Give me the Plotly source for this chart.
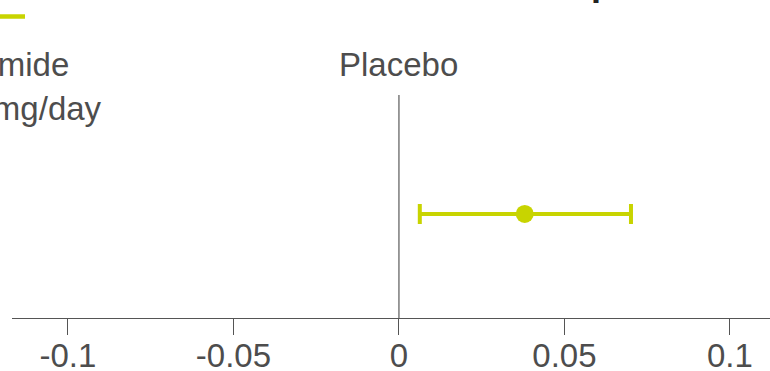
import plotly.graph_objects as go

# Estimated treatment effect versus placebo with its confidence interval
effect = [0.038]
ci_low = [0.0063]
ci_high = [0.0701]
row = [0.0]

tick_vals = [-0.1, -0.05, 0, 0.05, 0.1]
tick_text = ["-0.1", "-0.05", "0", "0.05", "0.1"]

GREEN = "#c8d400"
GREY = "#555555"
TXT = "#4d4d4d"

W, H = 770, 371
L, R, T, B = 12, 0, 95, 53
pw, ph = W - L - R, H - T - B


def px_x(px):
    return (px - L) / pw


def px_y(py):
    return (H - B - py) / ph


fig = go.Figure()

# reference line at no difference
fig.add_trace(go.Scatter(
    x=[0, 0], y=[-0.933, 1.067], mode="lines",
    line=dict(color="#666666", width=1.3), hoverinfo="skip", showlegend=False,
))

fig.add_trace(go.Scatter(
    x=effect, y=row, mode="markers",
    marker=dict(color=GREEN, size=18),
    error_x=dict(
        type="data", symmetric=False,
        array=[h - e for h, e in zip(ci_high, effect)],
        arrayminus=[e - l for e, l in zip(effect, ci_low)],
        color=GREEN, thickness=4, width=10,
    ),
    showlegend=False,
))

font_main = dict(family="Liberation Sans, Arial, sans-serif", size=33, color=TXT)

fig.add_annotation(
    x=0, xref="x", y=px_y(64), yref="paper", text="Placebo",
    showarrow=False, xanchor="center", yanchor="middle", font=font_main,
)
fig.add_annotation(
    x=px_x(71), xref="paper", y=px_y(64), yref="paper", text="Lenalidomide",
    showarrow=False, xanchor="right", yanchor="middle", font=font_main,
)
fig.add_annotation(
    x=px_x(104), xref="paper", y=px_y(109), yref="paper", text="10 mg/day",
    showarrow=False, xanchor="right", yanchor="middle", font=font_main,
)
fig.add_annotation(
    x=px_x(313), xref="paper", y=px_y(4.5), yref="paper",
    text="<b>Difference from placebo</b>",
    showarrow=False, xanchor="left", yanchor="bottom",
    font=dict(family="Liberation Sans, Arial, sans-serif", size=36, color="#222222"),
)

# legend swatch
fig.add_shape(
    type="line", xref="paper", yref="paper",
    x0=px_x(-10), x1=px_x(25), y0=px_y(16.5), y1=px_y(16.5),
    line=dict(color=GREEN, width=4.5),
)

fig.update_xaxes(
    range=[-0.1169, 0.1121], tickmode="array", tickvals=tick_vals, ticktext=tick_text,
    showline=True, linecolor=GREY, linewidth=1.3,
    ticks="outside", ticklen=16, tickwidth=1.3, tickcolor=GREY,
    ticklabelstandoff=-8,
    showgrid=False, zeroline=False, automargin=False,
    tickfont=dict(family="Liberation Sans, Arial, sans-serif", size=33, color=TXT),
)
fig.update_yaxes(range=[-0.933, 1.067], visible=False, showgrid=False,
                 zeroline=False, automargin=False)

fig.update_layout(
    width=W, height=H, margin=dict(l=L, r=R, t=T, b=B, pad=0, autoexpand=False),
    plot_bgcolor="white", paper_bgcolor="white",
)

fig.write_html("out.html")
